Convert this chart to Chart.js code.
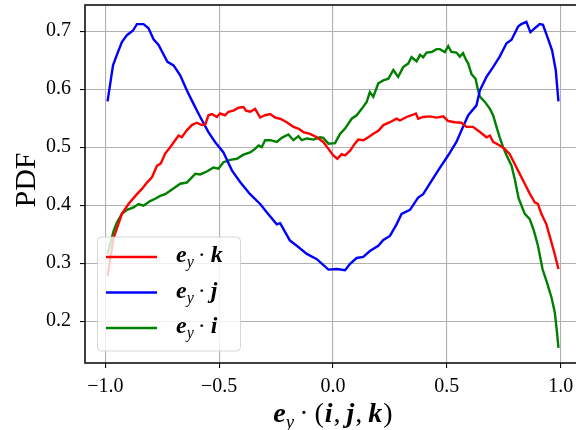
<!DOCTYPE html>
<html lang="en">
<head>
    <meta charset="UTF-8">
    <title>PDF of e_y projections</title>
    <script src="https://cdn.jsdelivr.net/npm/chart.js"></script>
    <style>
        body {
            margin: 0;
            background: #fff;
        }
        .wrap {
            width: 576px;
            height: 430px;
            overflow: hidden;
        }
    </style>
</head>
<body>
    <div class="wrap">
        <canvas id="pdfChart" width="590" height="430"></canvas>
    </div>

    <script>
        // [x, pdf] pairs
        var eyK = [[-0.99,0.278],[-0.963,0.344],[-0.927,0.385],[-0.898,0.402],[-0.861,0.419],[-0.839,0.428],[-0.817,0.439],[-0.795,0.448],[-0.773,0.468],[-0.756,0.472],[-0.737,0.489],[-0.715,0.5],[-0.693,0.512],[-0.678,0.52],[-0.664,0.517],[-0.642,0.529],[-0.62,0.538],[-0.598,0.542],[-0.576,0.538],[-0.561,0.539],[-0.547,0.555],[-0.532,0.557],[-0.51,0.552],[-0.496,0.558],[-0.474,0.555],[-0.459,0.561],[-0.437,0.563],[-0.415,0.568],[-0.393,0.569],[-0.382,0.563],[-0.364,0.561],[-0.342,0.566],[-0.32,0.551],[-0.298,0.555],[-0.276,0.557],[-0.254,0.551],[-0.232,0.549],[-0.203,0.543],[-0.174,0.535],[-0.152,0.532],[-0.13,0.526],[-0.101,0.523],[-0.071,0.517],[-0.043,0.509],[-0.02,0.497],[0.0,0.486],[0.019,0.48],[0.038,0.488],[0.053,0.486],[0.075,0.494],[0.096,0.506],[0.111,0.513],[0.133,0.512],[0.155,0.517],[0.177,0.523],[0.199,0.528],[0.221,0.538],[0.25,0.543],[0.279,0.549],[0.294,0.546],[0.323,0.552],[0.345,0.555],[0.364,0.558],[0.374,0.549],[0.396,0.552],[0.425,0.553],[0.455,0.551],[0.484,0.553],[0.506,0.545],[0.535,0.543],[0.564,0.542],[0.586,0.535],[0.615,0.535],[0.645,0.526],[0.674,0.517],[0.689,0.52],[0.703,0.509],[0.732,0.503],[0.754,0.497],[0.776,0.488],[0.798,0.471],[0.82,0.454],[0.842,0.437],[0.864,0.42],[0.886,0.405],[0.9,0.402],[0.915,0.385],[0.937,0.367],[0.955,0.342],[0.972,0.318],[0.99,0.29]];

        var eyJ = [[-0.99,0.579],[-0.966,0.641],[-0.952,0.656],[-0.927,0.681],[-0.905,0.693],[-0.878,0.701],[-0.861,0.712],[-0.832,0.712],[-0.81,0.705],[-0.788,0.686],[-0.766,0.676],[-0.727,0.647],[-0.7,0.641],[-0.671,0.624],[-0.642,0.598],[-0.613,0.575],[-0.583,0.552],[-0.547,0.526],[-0.518,0.509],[-0.481,0.491],[-0.444,0.46],[-0.408,0.44],[-0.364,0.419],[-0.32,0.402],[-0.291,0.388],[-0.247,0.367],[-0.232,0.369],[-0.189,0.339],[-0.159,0.33],[-0.115,0.316],[-0.071,0.307],[-0.02,0.289],[0.016,0.29],[0.053,0.288],[0.075,0.299],[0.104,0.309],[0.133,0.311],[0.162,0.321],[0.199,0.33],[0.221,0.34],[0.25,0.347],[0.279,0.367],[0.301,0.385],[0.338,0.392],[0.374,0.413],[0.396,0.419],[0.425,0.437],[0.462,0.46],[0.506,0.486],[0.542,0.509],[0.571,0.535],[0.594,0.555],[0.63,0.572],[0.645,0.598],[0.674,0.621],[0.703,0.638],[0.732,0.656],[0.762,0.679],[0.784,0.685],[0.813,0.708],[0.827,0.712],[0.849,0.716],[0.867,0.698],[0.886,0.705],[0.908,0.712],[0.922,0.711],[0.944,0.687],[0.962,0.667],[0.978,0.633],[0.99,0.579]];

        var eyI = [[-0.99,0.316],[-0.963,0.356],[-0.949,0.37],[-0.927,0.385],[-0.905,0.392],[-0.876,0.396],[-0.854,0.402],[-0.832,0.399],[-0.803,0.407],[-0.781,0.411],[-0.759,0.416],[-0.737,0.419],[-0.715,0.425],[-0.693,0.431],[-0.671,0.437],[-0.642,0.439],[-0.627,0.445],[-0.605,0.454],[-0.583,0.453],[-0.554,0.458],[-0.525,0.465],[-0.503,0.463],[-0.481,0.474],[-0.452,0.478],[-0.422,0.48],[-0.393,0.487],[-0.364,0.491],[-0.342,0.497],[-0.327,0.503],[-0.313,0.5],[-0.298,0.512],[-0.276,0.512],[-0.247,0.509],[-0.225,0.516],[-0.196,0.522],[-0.174,0.512],[-0.152,0.519],[-0.137,0.512],[-0.115,0.515],[-0.086,0.513],[-0.057,0.517],[-0.043,0.516],[-0.02,0.506],[0.009,0.507],[0.031,0.523],[0.053,0.532],[0.082,0.549],[0.104,0.555],[0.126,0.566],[0.148,0.578],[0.162,0.595],[0.177,0.587],[0.199,0.61],[0.221,0.615],[0.243,0.618],[0.265,0.633],[0.286,0.621],[0.308,0.638],[0.33,0.644],[0.345,0.655],[0.367,0.648],[0.382,0.659],[0.396,0.655],[0.411,0.663],[0.433,0.664],[0.455,0.669],[0.469,0.669],[0.491,0.664],[0.506,0.674],[0.52,0.664],[0.542,0.663],[0.557,0.656],[0.571,0.662],[0.586,0.649],[0.594,0.644],[0.608,0.626],[0.626,0.618],[0.637,0.598],[0.645,0.587],[0.667,0.578],[0.689,0.566],[0.703,0.555],[0.718,0.535],[0.732,0.517],[0.747,0.5],[0.762,0.486],[0.784,0.468],[0.798,0.445],[0.815,0.412],[0.842,0.385],[0.864,0.376],[0.882,0.356],[0.9,0.33],[0.92,0.29],[0.94,0.266],[0.96,0.24],[0.974,0.215],[0.983,0.183],[0.99,0.154]];

        var xTicks = [-1.0, -0.5, 0.0, 0.5, 1.0];
        var yTicks = [0.2, 0.3, 0.4, 0.5, 0.6, 0.7];
        var xRange = [-1.089, 1.089];
        var yRange = [0.128, 0.745];

        var serif = '"Liberation Serif", "DejaVu Serif", serif';

        // legend entries: colour + the symbol after "e_y ·"
        var legendItems = [
            { color: '#ff0000', sym: 'k' },
            { color: '#0000ff', sym: 'j' },
            { color: '#008000', sym: 'i' }
        ];

        function toXY(pairs) {
            return pairs.map(function(p) { return { x: p[0], y: p[1] }; });
        }

        // draws a list of text pieces left to right starting at x
        function drawRuns(ctx, runs, x, y) {
            runs.forEach(function(r) {
                ctx.font = r.font;
                ctx.fillText(r.t, x, y + (r.dy || 0));
                x += ctx.measureText(r.t).width + (r.gap || 0);
            });
            return x;
        }

        function runsWidth(ctx, runs) {
            var w = 0;
            runs.forEach(function(r) {
                ctx.font = r.font;
                w += ctx.measureText(r.t).width + (r.gap || 0);
            });
            return w;
        }

        var decorPlugin = {
            id: 'decor',
            afterDatasetsDraw: function(chart) {
                var ctx = chart.ctx;
                var a = chart.chartArea;
                ctx.save();

                // axes frame
                ctx.strokeStyle = '#000';
                ctx.lineWidth = 1.5;
                ctx.strokeRect(a.left, a.top, a.right - a.left, a.bottom - a.top);

                // legend box
                var bx = 97.5, by = 237, bw = 143, bh = 114, r = 4;
                ctx.beginPath();
                ctx.moveTo(bx + r, by);
                ctx.arcTo(bx + bw, by, bx + bw, by + bh, r);
                ctx.arcTo(bx + bw, by + bh, bx, by + bh, r);
                ctx.arcTo(bx, by + bh, bx, by, r);
                ctx.arcTo(bx, by, bx + bw, by, r);
                ctx.closePath();
                ctx.fillStyle = 'rgba(255,255,255,0.8)';
                ctx.fill();
                ctx.strokeStyle = 'rgba(204,204,204,0.8)';
                ctx.lineWidth = 1;
                ctx.stroke();

                ctx.textBaseline = 'alphabetic';
                ctx.textAlign = 'left';
                ctx.fillStyle = '#000';
                legendItems.forEach(function(item, i) {
                    var ly = 257 + i * 35.5;
                    ctx.strokeStyle = item.color;
                    ctx.lineWidth = 2.4;
                    ctx.beginPath();
                    ctx.moveTo(106, ly);
                    ctx.lineTo(157, ly);
                    ctx.stroke();
                    drawRuns(ctx, [
                        { t: 'e', font: 'bold italic 24px ' + serif },
                        { t: 'y', font: 'italic 16px ' + serif, dy: 5, gap: 4 },
                        { t: '\u00b7', font: '24px ' + serif, gap: 5 },
                        { t: item.sym, font: 'bold italic 24px ' + serif }
                    ], 176, ly + 5);
                });

                // x axis title
                var xRuns = [
                    { t: 'e', font: 'bold italic 28px ' + serif },
                    { t: 'y', font: 'italic 19px ' + serif, dy: 6, gap: 5 },
                    { t: '\u00b7', font: '28px ' + serif, gap: 6 },
                    { t: '(', font: '28px ' + serif, gap: 1 },
                    { t: 'i', font: 'bold italic 28px ' + serif, gap: 1 },
                    { t: ',', font: '28px ' + serif, gap: 6 },
                    { t: 'j', font: 'bold italic 28px ' + serif, gap: 1 },
                    { t: ',', font: '28px ' + serif, gap: 6 },
                    { t: 'k', font: 'bold italic 28px ' + serif, gap: 1 },
                    { t: ')', font: '28px ' + serif }
                ];
                var cx = (a.left + a.right) / 2;
                drawRuns(ctx, xRuns, cx - runsWidth(ctx, xRuns) / 2, 422);

                // y axis title
                ctx.translate(35, 180);
                ctx.rotate(-Math.PI / 2);
                ctx.textAlign = 'center';
                ctx.font = '30px ' + serif;
                ctx.fillText('PDF', 0, 0);

                ctx.restore();
            }
        };

        function minusLabel(v) {
            return (v < 0 ? '\u2212' : '') + Math.abs(v).toFixed(1);
        }

        var pdfChart = new Chart(document.getElementById('pdfChart').getContext('2d'), {
            type: 'line',
            data: {
                datasets: [
                    { label: 'e_y · k', data: toXY(eyK), borderColor: '#ff0000' },
                    { label: 'e_y · j', data: toXY(eyJ), borderColor: '#0000ff' },
                    { label: 'e_y · i', data: toXY(eyI), borderColor: '#008000' }
                ]
            },
            options: {
                responsive: false,
                animation: false,
                devicePixelRatio: 1,
                layout: {
                    padding: { top: 5, right: 9, left: 0, bottom: 0 }
                },
                elements: {
                    point: { radius: 0 },
                    line: { borderWidth: 2.4, tension: 0, fill: false }
                },
                plugins: {
                    legend: { display: false },
                    tooltip: { enabled: false }
                },
                scales: {
                    x: {
                        type: 'linear',
                        min: xRange[0],
                        max: xRange[1],
                        afterBuildTicks: function(s) {
                            s.ticks = xTicks.map(function(v) { return { value: v }; });
                        },
                        afterFit: function(s) {
                            s.height = 67;
                            s.paddingLeft = 0;
                            s.paddingRight = 0;
                        },
                        grid: {
                            color: '#b0b0b0',
                            lineWidth: 1.1,
                            tickColor: '#000',
                            tickLength: 5
                        },
                        border: { display: false },
                        ticks: {
                            padding: 7,
                            color: '#000',
                            maxRotation: 0,
                            font: { family: serif, size: 20 },
                            callback: minusLabel
                        }
                    },
                    y: {
                        type: 'linear',
                        min: yRange[0],
                        max: yRange[1],
                        afterBuildTicks: function(s) {
                            s.ticks = yTicks.map(function(v) { return { value: v }; });
                        },
                        afterFit: function(s) {
                            s.width = 85;
                            s.paddingTop = 0;
                            s.paddingBottom = 0;
                        },
                        grid: {
                            color: '#b0b0b0',
                            lineWidth: 1.1,
                            tickColor: '#000',
                            tickLength: 5
                        },
                        border: { display: false },
                        ticks: {
                            padding: 9,
                            color: '#000',
                            font: { family: serif, size: 20 },
                            callback: function(v) { return v.toFixed(1); }
                        }
                    }
                }
            },
            plugins: [decorPlugin]
        });
    </script>
</body>
</html>
